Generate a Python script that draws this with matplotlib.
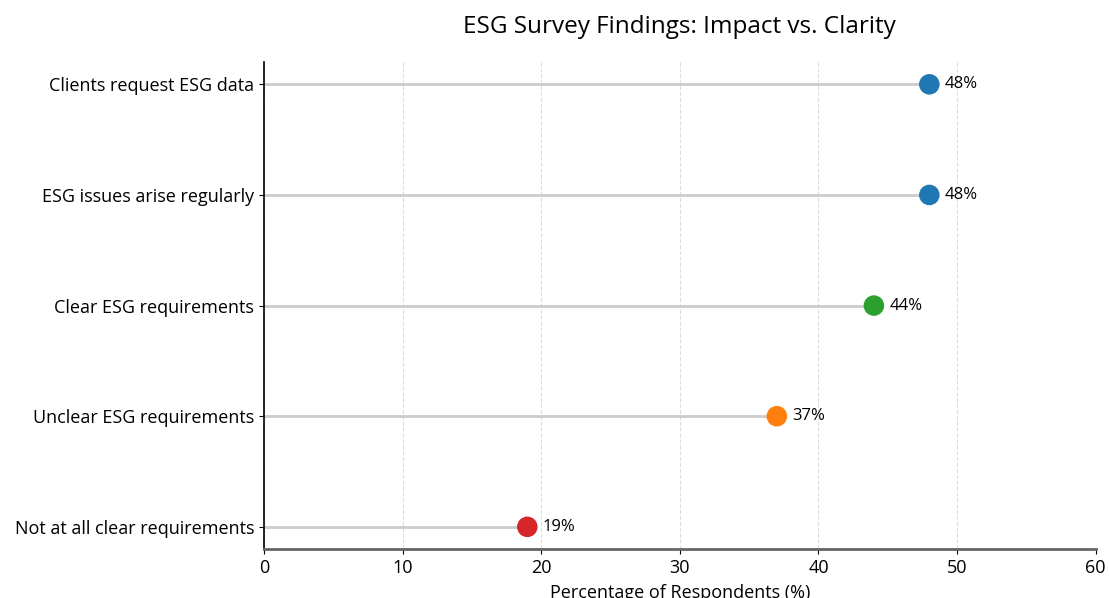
import matplotlib
matplotlib.use('Agg')
import matplotlib.pyplot as plt

categories = ['Not at all clear requirements', 'Unclear ESG requirements',
              'Clear ESG requirements', 'ESG issues arise regularly',
              'Clients request ESG data']
values = [19, 37, 44, 48, 48]
colors = ['#d62728', '#ff7f0e', '#2ca02c', '#1f77b4', '#1f77b4']

plt.rcParams['font.family'] = ['Open Sans', 'DejaVu Sans']

fig = plt.figure(figsize=(11.09, 5.98), dpi=100)
ax = fig.add_axes([0.238, 0.082, 0.750, 0.814])

y = list(range(len(categories)))
ax.hlines(y, 0, values, color='#cccccc', linewidth=2, zorder=1)
ax.scatter(values, y, color=colors, s=190, zorder=3)
for v, yy in zip(values, y):
    ax.annotate(f'{v}%', (v, yy), xytext=(11, 0), textcoords='offset points',
                va='center', ha='left', fontsize=12)

ax.set_yticks(y)
ax.set_yticklabels(categories, fontsize=13)
ax.set_xlim(0, 60)
ax.set_xticks(range(0, 61, 10))
ax.tick_params(axis='x', labelsize=13)
ax.set_xlabel('Percentage of Respondents (%)', fontsize=13, labelpad=5)
ax.set_title('ESG Survey Findings: Impact vs. Clarity', fontsize=17.5, pad=21)
ax.grid(axis='x', linestyle='--', color='#dddddd', linewidth=0.8)
ax.set_axisbelow(True)
ax.spines['top'].set_visible(False)
ax.spines['right'].set_visible(False)
ax.spines['bottom'].set_color('#666666')
ax.spines['bottom'].set_linewidth(2)
ax.spines['left'].set_linewidth(1.2)

fig.savefig('out.png', dpi=100)
